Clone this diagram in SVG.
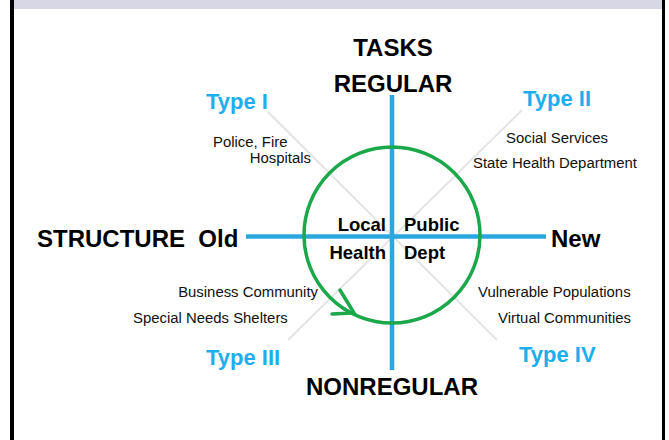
<svg xmlns="http://www.w3.org/2000/svg" width="669" height="440" viewBox="0 0 669 440">
<style>
.ax{font-family:"Liberation Sans",Arial,sans-serif;font-weight:bold;font-size:24px;fill:#000}
.ctr{font-family:"Liberation Sans",Arial,sans-serif;font-weight:bold;font-size:18.5px;fill:#000}
.typ{font-family:"Liberation Sans",Arial,sans-serif;font-weight:bold;font-size:22px;fill:#1eaeee}
.sm{font-family:"Liberation Sans",Arial,sans-serif;font-size:14.9px;fill:#111}
.axis{stroke:#2aa7df;stroke-width:4.5;fill:none}
.diag{stroke:#e4e4e4;stroke-width:2;fill:none}
.grn{stroke:#1aa84a;stroke-width:3.5;fill:none;stroke-linecap:round}
</style>
<rect x="0" y="0" width="669" height="440" fill="#fff"/>
<rect x="14" y="0" width="648" height="9" fill="#d8d7e6"/>
<rect x="10" y="0" width="4" height="440" fill="#000"/>
<rect x="662" y="0" width="3" height="440" fill="#000"/>
<g id="connectors">
<line class="diag" x1="268" y1="112" x2="497" y2="340"/>
<line class="diag" x1="522" y1="110" x2="288" y2="340"/>
<line class="axis" x1="392" y1="95" x2="392" y2="370"/>
<line class="axis" x1="246" y1="236.5" x2="546" y2="236.5"/>
<circle class="grn" cx="392" cy="235" r="88"/>
<polyline class="grn" points="340,290 354,313 332,314"/>
</g>
<g id="tasks"><text class="ax" x="393" y="56" text-anchor="middle">TASKS</text></g>
<g id="regular"><text class="ax" x="393" y="92" text-anchor="middle">REGULAR</text></g>
<g id="nonregular"><text class="ax" x="392" y="395" text-anchor="middle">NONREGULAR</text></g>
<g id="structure-old"><text class="ax" x="37" y="247" xml:space="preserve">STRUCTURE  Old</text></g>
<g id="new"><text class="ax" x="551" y="247">New</text></g>
<g id="center">
<text class="ctr" x="386" y="231" text-anchor="end">Local</text>
<text class="ctr" x="404" y="231">Public</text>
<text class="ctr" x="386" y="259" text-anchor="end">Health</text>
<text class="ctr" x="404" y="259">Dept</text>
</g>
<g id="type1">
<text class="typ" x="206" y="109">Type I</text>
<text class="sm" x="213" y="147">Police, Fire</text>
<text class="sm" x="311" y="163" text-anchor="end">Hospitals</text>
</g>
<g id="type2">
<text class="typ" x="523" y="106">Type II</text>
<text class="sm" x="557" y="143" text-anchor="middle">Social Services</text>
<text class="sm" x="473" y="168">State Health Department</text>
</g>
<g id="type3">
<text class="typ" x="206" y="365">Type III</text>
<text class="sm" x="318" y="297" text-anchor="end">Business Community</text>
<text class="sm" x="133" y="323">Special Needs Shelters</text>
</g>
<g id="type4">
<text class="typ" x="519" y="362">Type IV</text>
<text class="sm" x="478" y="297">Vulnerable Populations</text>
<text class="sm" x="631" y="323" text-anchor="end">Virtual Communities</text>
</g>
</svg>
